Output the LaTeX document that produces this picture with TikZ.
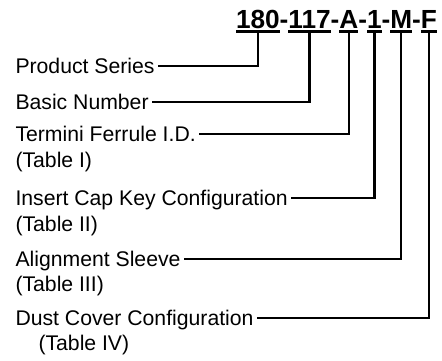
\documentclass[tikz,border=0pt]{standalone}
\usepackage{fontspec}
\setmainfont{Liberation Sans}
\usetikzlibrary{positioning}

\begin{document}
\begin{tikzpicture}[
    x=0.5pt, y=-0.5pt,
    line width=1.2pt,
    part/.style={font=\fontsize{13.1}{15}\selectfont\bfseries, inner sep=0pt, outer sep=0pt, anchor=base west},
    field/.style={font=\fontsize{10.6}{12.5}\selectfont, inner xsep=1.75pt, inner ysep=0pt, outer sep=0pt, text height=7.6pt, text depth=0pt, anchor=west},
    sub/.style={font=\fontsize{10.6}{12.5}\selectfont, inner xsep=1.75pt, inner ysep=0pt, outer sep=0pt, anchor=base west}
]
    \useasboundingbox (0,0) rectangle (442,360);

    % Part number
    \node[part] (p180) at (236,28) {180};
    \node[part, base right=0pt of p180] (h1) {-};
    \node[part, base right=0pt of h1] (p117) {117};
    \node[part, base right=0pt of p117] (h2) {-};
    \node[part, base right=0pt of h2] (pA) {A};
    \node[part, base right=0pt of pA] (h3) {-};
    \node[part, base right=0pt of h3] (p1) {1};
    \node[part, base right=0pt of p1] (h4) {-};
    \node[part, base right=0pt of h4] (pM) {M};
    \node[part, base right=0pt of pM] (h5) {-};
    \node[part, base right=0pt of h5] (pF) {F};
    \foreach \p in {p180,p117,pA,p1,pM,pF}
        \draw ([yshift=-1.8pt]\p.base west) -- ([yshift=-1.8pt]\p.base east);

    % Fields
    \node[field] (ser) at (12,66) {Product Series};
    \node[field] (num) at (12,102) {Basic Number\hspace{3.8pt}};
    \node[field] (fer) at (12,134) {Termini Ferrule I.D.};
    \node[sub] (ferT) at ([yshift=-12.75pt]fer.base west) {(Table I)};
    \node[field] (key) at (12,198) {Insert Cap Key Configuration};
    \node[sub] (keyT) at ([yshift=-12.75pt]key.base west) {(Table II)};
    \node[field] (slv) at (12,259) {Alignment Sleeve};
    \node[sub] (slvT) at ([yshift=-12.5pt]slv.base west) {(Table III)};
    \node[field] (dst) at (12,318) {Dust Cover Configuration};
    \node[sub] (dstT) at ([xshift=11.5pt,yshift=-12.5pt]dst.base west) {(Table IV)};

    % Leaders
    \draw ([yshift=-1.8pt]p180.base) |- (ser.east);
    \draw ([yshift=-1.8pt]p117.base) |- (num.east);
    \draw ([yshift=-1.8pt]pA.base) |- (fer.east);
    \draw ([yshift=-1.8pt]p1.base) |- (key.east);
    \draw ([yshift=-1.8pt]pM.base) |- (slv.east);
    \draw ([yshift=-1.8pt]pF.base) |- (dst.east);
\end{tikzpicture}
\end{document}
